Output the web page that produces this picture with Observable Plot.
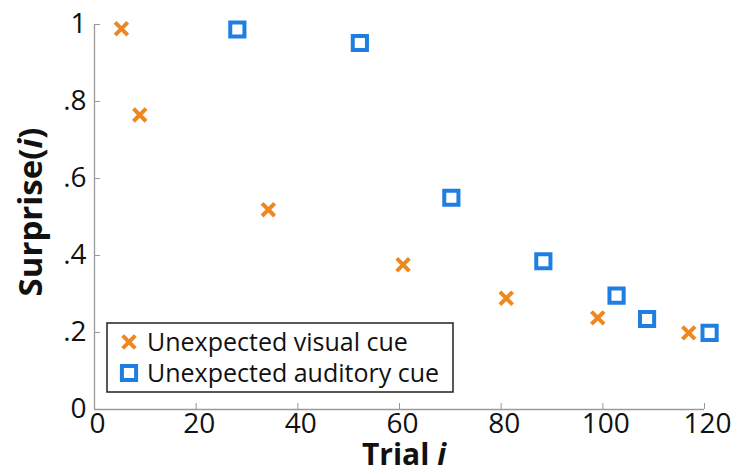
<!DOCTYPE html>
<html>
<head>
<meta charset="utf-8">
<script src="https://cdn.jsdelivr.net/npm/d3@7"></script>
<script src="https://cdn.jsdelivr.net/npm/@observablehq/plot@0.6"></script>
<style>
  html, body { margin: 0; padding: 0; background: white; }
</style>
</head>
<body>
<div id="chart"></div>
<script>
const seriesNames = ["Unexpected visual cue", "Unexpected auditory cue"];
const trialsVisual = [5.3, 8.9, 34.2, 60.7, 81.0, 99.0, 116.9];
const surpriseVisual = [0.989, 0.765, 0.519, 0.376, 0.289, 0.238, 0.199];
const trialsAuditory = [28.1, 52.2, 70.2, 88.3, 102.7, 108.7, 121.0];
const surpriseAuditory = [0.987, 0.952, 0.550, 0.385, 0.296, 0.235, 0.199];
const xTicks = [0, 20, 40, 60, 80, 100, 120];
const yTicks = [0, 0.2, 0.4, 0.6, 0.8, 1];
const yTickLabels = ["0", ".2", ".4", ".6", ".8", "1"];

const orange = "#f0861e";
const blue = "#1f7fe0";
const axisGray = "#9a9a9a";
const font = "'Open Sans', sans-serif";

const visual = trialsVisual.map((t, i) => ({trial: t, surprise: surpriseVisual[i]}));
const auditory = trialsAuditory.map((t, i) => ({trial: t, surprise: surpriseAuditory[i]}));

const chart = Plot.plot({
  width: 739,
  height: 474,
  marginLeft: 94,
  marginRight: 35,
  marginTop: 24,
  marginBottom: 65,
  style: {fontFamily: font, background: "white", color: "#111"},
  x: {domain: [0, 120]},
  y: {domain: [0, 1]},
  marks: [
    Plot.ruleY([0], {stroke: axisGray, strokeWidth: 1.3}),
    Plot.ruleX([0], {stroke: axisGray, strokeWidth: 1.3}),
    Plot.axisX({ticks: xTicks, tickSize: -6, tickFormat: () => "", stroke: axisGray, label: null}),
    Plot.axisY({ticks: yTicks, tickSize: -6, tickFormat: () => "", stroke: axisGray, label: null}),
    Plot.axisX({ticks: xTicks, tickSize: 0, tickPadding: 4, fontSize: 28, fill: "#111", label: null, dx: 3}),
    Plot.axisY({ticks: yTicks, tickSize: 0, tickPadding: 8, fontSize: 28, fill: "#111", label: null,
      tickFormat: d => yTickLabels[yTicks.indexOf(d)]}),
    Plot.dot(visual, {x: "trial", y: "surprise", symbol: "times", r: 5.8, stroke: orange, strokeWidth: 4}),
    Plot.dot(auditory, {x: "trial", y: "surprise", symbol: "square", r: 8, stroke: blue, strokeWidth: 4, fill: "none"})
  ]
});

document.getElementById("chart").appendChild(chart);

const svg = d3.select(chart);

// Axis titles
const xt = svg.append("text")
  .attr("x", 404).attr("y", 465)
  .attr("text-anchor", "middle")
  .attr("font-family", font).attr("font-size", 30).attr("font-weight", "bold").attr("fill", "#111");
xt.append("tspan").text("Trial ");
xt.append("tspan").attr("font-style", "italic").text("i");

const yt = svg.append("text")
  .attr("transform", "translate(42,212) rotate(-90)")
  .attr("text-anchor", "middle")
  .attr("font-family", font).attr("font-size", 33).attr("font-weight", "bold").attr("fill", "#111");
yt.append("tspan").text("Surprise(");
yt.append("tspan").attr("font-style", "italic").text("i");
yt.append("tspan").text(")");

// Legend
const lg = svg.append("g");
lg.append("rect").attr("x", 107).attr("y", 323).attr("width", 346).attr("height", 69)
  .attr("fill", "white").attr("stroke", "#222").attr("stroke-width", 1.5);
const lx = 129, ly1 = 342, ly2 = 373;
lg.append("path").attr("d", d3.symbol(d3.symbolTimes, Math.PI * 5.8 * 5.8)())
  .attr("transform", `translate(${lx},${ly1})`).attr("fill", "none").attr("stroke", orange).attr("stroke-width", 4);
lg.append("path").attr("d", d3.symbol(d3.symbolSquare, Math.PI * 8 * 8)())
  .attr("transform", `translate(${lx},${ly2})`).attr("fill", "none").attr("stroke", blue).attr("stroke-width", 4);
[ly1, ly2].forEach((y, i) => {
  lg.append("text").attr("x", 147).attr("y", y).attr("dy", "0.35em")
    .attr("text-anchor", "start")
    .attr("font-family", font).attr("font-size", 25).attr("fill", "#111")
    .text(seriesNames[i]);
});
</script>
</body>
</html>
